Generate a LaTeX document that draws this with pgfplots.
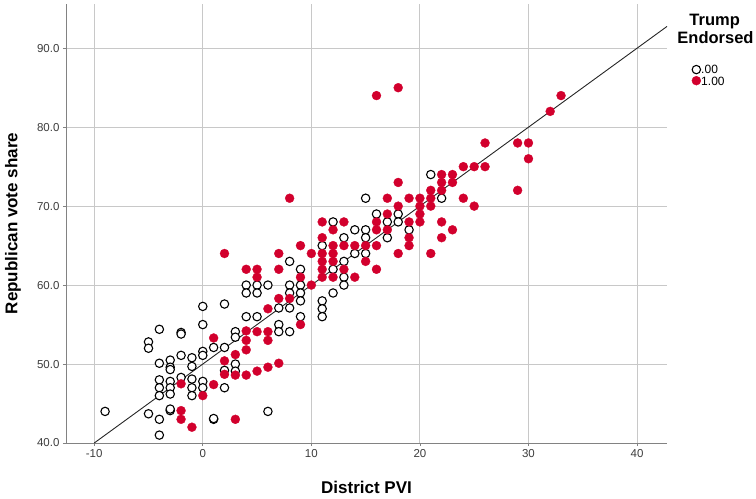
\documentclass[border=0pt]{standalone}
\usepackage{pgfplots}
\pgfplotsset{compat=1.18}
\usepackage{fontspec}
\setmainfont{Liberation Sans}
\definecolor{tred}{RGB}{210,0,45}
\definecolor{gridc}{RGB}{200,200,200}
\definecolor{axc}{RGB}{130,130,130}
\definecolor{tickc}{RGB}{60,60,60}
\pgfplotsset{legend image code/.code={\draw[#1] plot coordinates {(0bp,0bp)};}}
\begin{document}
\begin{tikzpicture}
\begin{axis}[
  scale only axis,
  width=601bp, height=439bp,
  xmin=-12.6, xmax=42.76,
  ymin=40, ymax=95.6,
  xtick={-10,0,10,20,30,40},
  ytick={40,50,60,70,80,90},
  axis x line*=bottom, axis y line*=left,
  axis line style={axc, line width=1pt, -},
  grid=major,
  major grid style={gridc, line width=1pt},
  tick align=outside,
  major tick length=3bp,
  tick style={axc, line width=0.8pt},
  /pgf/number format/assume math mode=true,
  ticklabel style={font=\fontsize{11.5bp}{13bp}\selectfont, text=tickc},
  yticklabel={\pgfmathprintnumber[fixed, fixed zerofill, precision=1]{\tick}},
  xlabel={\textbf{District PVI}},
  ylabel={\textbf{Republican vote share}},
  label style={font=\fontsize{17bp}{19bp}\selectfont},
  xlabel style={at={(rel axis cs:0.5,-0.1002)}, anchor=center},
  ylabel style={at={(rel axis cs:-0.0882,0.5)}, anchor=center, rotate=0},
  clip=false,
  legend style={at={(rel axis cs:1.041,0.862)}, anchor=north west, draw=none, fill=none,
    font=\fontsize{12bp}{13bp}\selectfont, inner sep=0pt, row sep=1.5bp,
    nodes={inner sep=0.4bp, text height=8.8bp, text depth=0pt}},
  legend cell align=left,
]
\addplot[only marks, mark=*, mark size=4.2bp, mark options={draw=black, fill=white, line width=1.1pt}]
coordinates {
(-9,44)
(-5,52.8) (-5,52.0) (-5,43.7)
(-4,54.4) (-4,50.1) (-4,48.0) (-4,47.0) (-4,46.0) (-4,43.0) (-4,41.0)
(-3,50.5) (-3,49.6) (-3,49.3) (-3,47.8) (-3,47.0) (-3,46.2) (-3,44.1) (-3,44.3)
(-2,54.0) (-2,53.8) (-2,51.1) (-2,48.3)
(-1,50.8) (-1,49.7) (-1,48.1) (-1,47.0) (-1,46.0)
(0,57.3) (0,55.0) (0,51.6) (0,51.1) (0,47.8) (0,47.0)
(1,52.1) (1,43.0) (1,43.1)
(2,57.6) (2,52.1) (2,49.2) (2,47.0)
(3,54.1) (3,53.4) (3,50.0) (3,49.1)
(4,60) (4,59) (4,56)
(5,60) (5,59) (5,56)
(6,60) (6,44)
(7,57.1) (7,55.0) (7,54.1)
(8,63) (8,60) (8,59) (8,57.1) (8,54.1)
(9,62) (9,60) (9,59) (9,58) (9,56)
(11,65) (11,58) (11,57) (11,56)
(12,68) (12,62) (12,59)
(13,66) (13,63) (13,61) (13,60)
(14,67) (14,64)
(15,71) (15,67) (15,66) (15,64)
(16,69)
(17,68) (17,66)
(18,69) (18,68)
(19,67)
(21,74)
(22,71)
};
\addlegendentry{.00}
\addplot[only marks, mark=*, mark size=4.5bp, mark options={draw=tred, fill=tred, line width=0.3pt}]
coordinates {
(-2,47.5) (-2,44.1) (-2,43.0)
(-1,42.0)
(0,46.0)
(1,53.3) (1,47.4)
(2,64) (2,50.4) (2,48.7)
(3,51.2) (3,48.6) (3,43.0)
(4,62) (4,54.2) (4,53.0) (4,51.8) (4,48.6)
(5,62) (5,61) (5,54.1) (5,49.1)
(6,57) (6,54.1) (6,53.0) (6,49.6)
(7,64) (7,62) (7,58.3) (7,50.1)
(8,71) (8,58.3)
(9,65) (9,61) (9,55)
(10,64) (10,60)
(11,68) (11,66) (11,64) (11,63) (11,62) (11,61)
(12,67) (12,65) (12,64) (12,63) (12,61)
(13,68) (13,65) (13,62)
(14,65) (14,61)
(15,65) (15,63)
(16,84) (16,68) (16,67) (16,65) (16,62)
(17,71) (17,69) (17,67)
(18,85) (18,73) (18,70) (18,64)
(19,71) (19,68) (19,66) (19,65)
(20,71) (20,70) (20,69) (20,68)
(21,72) (21,71) (21,70) (21,64)
(22,74) (22,73) (22,72) (22,68) (22,66)
(23,74) (23,73) (23,67)
(24,75) (24,71)
(25,75) (25,70)
(26,78) (26,75)
(29,78) (29,72)
(30,78) (30,76)
(32,82)
(33,84)
};
\addlegendentry{1.00}
\addplot[black!85, line width=0.9pt, no marks, forget plot] coordinates {(-10,40) (42.76,92.76)};
\coordinate (sw) at (rel axis cs:0,0);
\end{axis}
\node[font=\bfseries\fontsize{16.5bp}{18bp}\selectfont] at ([shift={(648.7bp,421bp)}]sw) {Trump};
\node[font=\bfseries\fontsize{16.5bp}{18bp}\selectfont] at ([shift={(649.5bp,405.5bp)}]sw) {Endorsed};
\pgfresetboundingbox
\path (sw) ++(-66bp,-56bp) rectangle ++(756bp,499bp);
\end{tikzpicture}
\end{document}
